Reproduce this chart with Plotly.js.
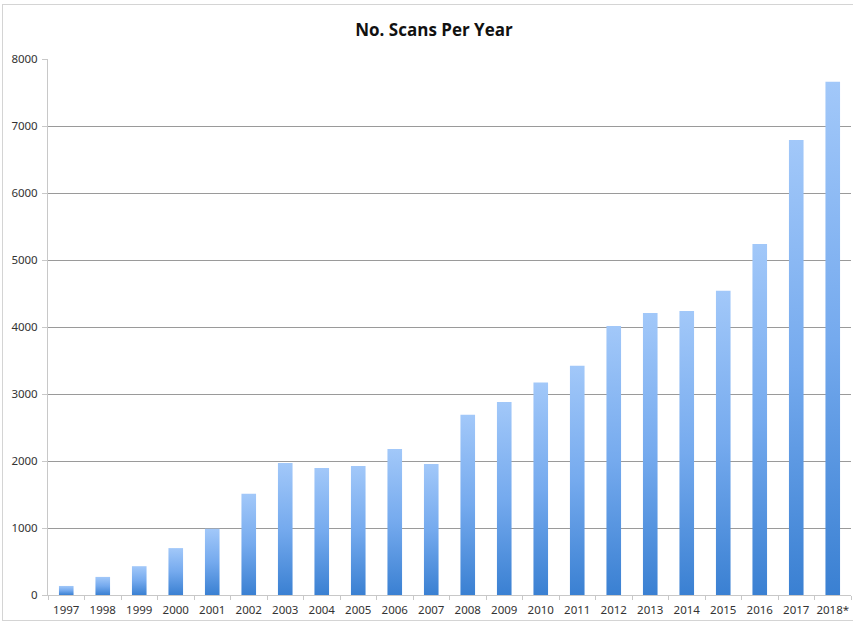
<!DOCTYPE html>
<html>
<head>
<meta charset="utf-8">
<script src="https://cdn.plot.ly/plotly-3.0.1.min.js"></script>
<style>
html, body { margin: 0; padding: 0; background: #fff; overflow: hidden; }
#wrap { position: relative; width: 853px; height: 625px; overflow: hidden; }
#chart { width: 853px; height: 625px; }
#frame { position: absolute; left: 2px; top: 4px; width: 860px; height: 617px; border: 1px solid #d4d4d4; pointer-events: none; box-sizing: border-box; }
</style>
</head>
<body>
<div id="wrap">
  <div id="chart"></div>
  <div id="frame"></div>
</div>
<script>
const years = ["1997","1998","1999","2000","2001","2002","2003","2004","2005","2006","2007",
               "2008","2009","2010","2011","2012","2013","2014","2015","2016","2017","2018*"];
const scans = [135, 270, 430, 700, 990, 1510, 1970, 1895, 1925, 2180, 1955,
               2690, 2880, 3170, 3420, 4015, 4210, 4240, 4540, 5240, 6790, 7660];
const yTicks = [0, 1000, 2000, 3000, 4000, 5000, 6000, 7000, 8000];
const chartTitle = "No. Scans Per Year";

const trace = {
  type: "bar",
  x: years,
  y: scans,
  marker: { color: "#6aa3e8", line: { width: 0 } },
  hoverinfo: "x+y"
};

const layout = {
  width: 853,
  height: 625,
  paper_bgcolor: "#ffffff",
  plot_bgcolor: "#ffffff",
  margin: { l: 48, r: 2, t: 59, b: 30 },
  bargap: 0.6,
  showlegend: false,
  title: {
    text: "<b>" + chartTitle + "</b>",
    font: { family: "Open Sans, Noto Sans, sans-serif", size: 17, color: "#111" },
    x: 434 / 853, xref: "container", xanchor: "center",
    y: 1 - 30 / 625, yref: "container", yanchor: "middle"
  },
  font: { family: "Noto Sans, Open Sans, sans-serif", size: 11.5, color: "#333" },
  xaxis: {
    type: "category",
    showline: true, linecolor: "#c8c8c8", linewidth: 1,
    ticks: "outside", tickson: "boundaries", ticklen: 4, tickcolor: "#c8c8c8",
    tickangle: 0, ticklabelstandoff: 4,
    showgrid: false, zeroline: false,
    tickfont: { size: 11.5, color: "#333" },
    fixedrange: true
  },
  yaxis: {
    range: [0, 8000],
    tickvals: yTicks,
    ticktext: yTicks.map(String),
    showline: true, linecolor: "#c8c8c8", linewidth: 1,
    ticks: "outside", ticklen: 5, tickcolor: "#c8c8c8",
    ticklabelstandoff: 2,
    showgrid: true, gridcolor: "#9a9a9a", gridwidth: 1,
    zeroline: false,
    tickfont: { size: 11.5, color: "#333" },
    fixedrange: true
  }
};

Plotly.newPlot("chart", [trace], layout, { displayModeBar: false, staticPlot: true }).then(function (gd) {
  const svg = gd.querySelector("svg.main-svg");
  const ns = "http://www.w3.org/2000/svg";
  let defs = svg.querySelector("defs");
  if (!defs) { defs = document.createElementNS(ns, "defs"); svg.insertBefore(defs, svg.firstChild); }
  const grad = document.createElementNS(ns, "linearGradient");
  grad.setAttribute("id", "barGrad");
  grad.setAttribute("x1", "0"); grad.setAttribute("y1", "0");
  grad.setAttribute("x2", "0"); grad.setAttribute("y2", "1");
  [["0", "#a2c8f9"], ["0.5", "#75aaee"], ["1", "#3a80d2"]].forEach(function (s) {
    const st = document.createElementNS(ns, "stop");
    st.setAttribute("offset", s[0]);
    st.setAttribute("stop-color", s[1]);
    grad.appendChild(st);
  });
  defs.appendChild(grad);
  gd.querySelectorAll(".barlayer .point path").forEach(function (p) {
    p.style.fill = "url(#barGrad)";
  });
});
</script>
</body>
</html>
